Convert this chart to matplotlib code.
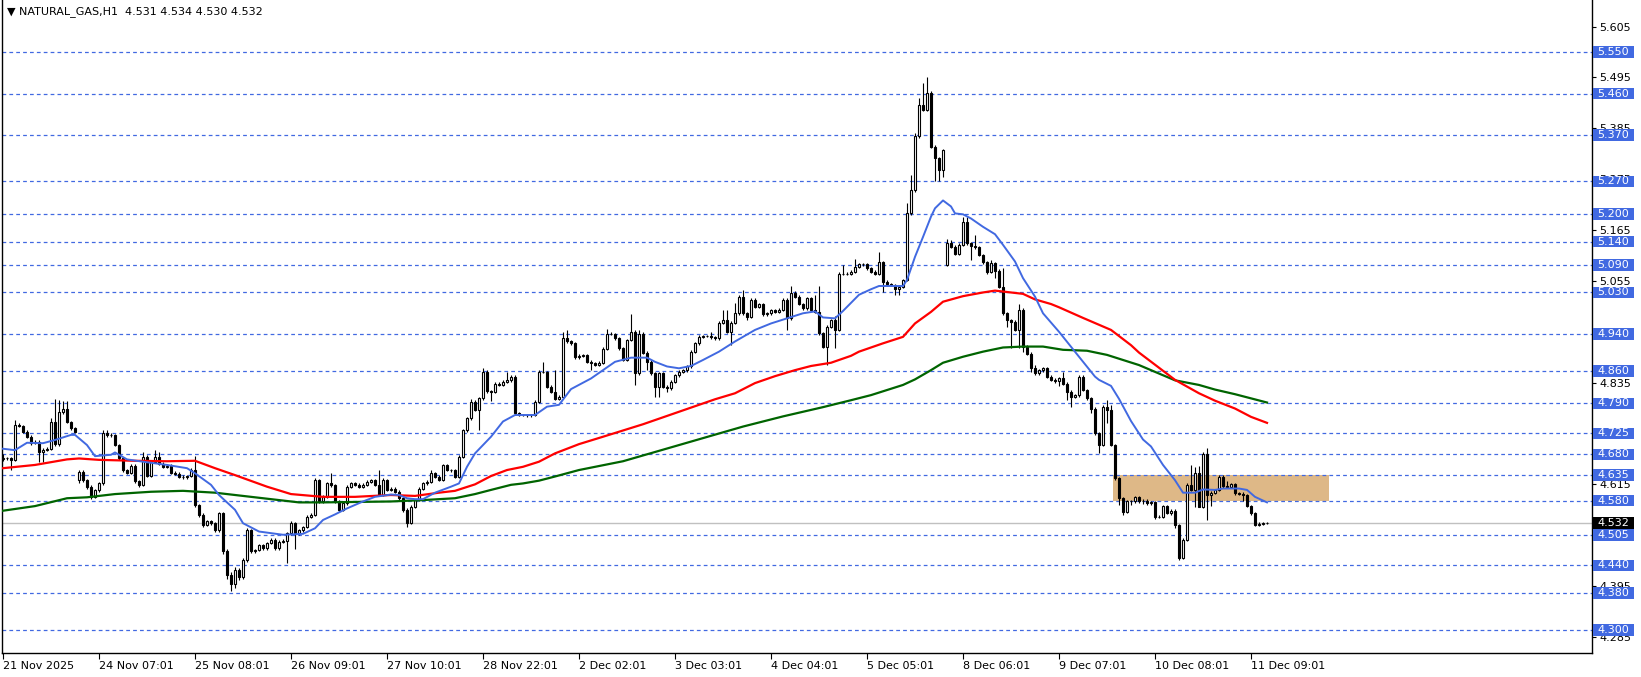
import matplotlib
matplotlib.use("Agg")
import matplotlib.pyplot as plt
import matplotlib.transforms as mtransforms
from matplotlib.patches import Rectangle

W, H = 1641, 677

TITLE = "\u25bc NATURAL_GAS,H1  4.531 4.534 4.530 4.532"

# hourly closes in thousandths, 10 bars per row
first_open = 4670
gap_opens = {19: 4624, 236: 5090}
closes = [
    4672, 4671, 4668, 4743, 4741, 4729, 4718, 4705, 4707, 4684,
    4690, 4692, 4750, 4702, 4772, 4777, 4750, 4736, 4729, 4642,
    4624, 4610, 4588, 4603, 4617, 4725, 4722, 4721, 4700, 4671,
    4646, 4640, 4655, 4622, 4614, 4675, 4633, 4664, 4675, 4660,
    4653, 4655, 4640, 4638, 4632, 4630, 4633, 4646, 4570, 4549,
    4527, 4535, 4531, 4516, 4552, 4470, 4420, 4400, 4430, 4415,
    4451, 4516, 4470, 4473, 4484, 4477, 4488, 4495, 4477, 4491,
    4493, 4509, 4531, 4509, 4516, 4523, 4545, 4549, 4624, 4578,
    4588, 4617, 4613, 4578, 4560, 4574, 4610, 4617, 4614, 4610,
    4614, 4621, 4624, 4614, 4592, 4624, 4603, 4606, 4599, 4585,
    4560, 4532, 4567, 4581, 4606, 4617, 4621, 4639, 4632, 4625,
    4657, 4646, 4645, 4631, 4675, 4732, 4758, 4794, 4776, 4801,
    4859, 4816, 4815, 4833, 4830, 4837, 4840, 4848, 4769, 4765,
    4765, 4764, 4765, 4794, 4859, 4858, 4826, 4815, 4800, 4805,
    4931, 4924, 4920, 4890, 4893, 4895, 4880, 4877, 4874, 4878,
    4908, 4941, 4940, 4931, 4909, 4884, 4927, 4945, 4855, 4941,
    4900, 4880, 4855, 4826, 4855, 4826, 4823, 4837, 4851, 4859,
    4862, 4870, 4902, 4920, 4934, 4936, 4936, 4933, 4931, 4965,
    4970, 4945, 4965, 4985, 5021, 4985, 4978, 5014, 4999, 5005,
    4983, 4985, 4992, 4988, 4993, 5014, 4974, 5028, 5021, 5005,
    4996, 5017, 4992, 4988, 4942, 4913, 4956, 4970, 4949, 5071,
    5071, 5070, 5075, 5086, 5091, 5091, 5082, 5075, 5070, 5096,
    5053, 5048, 5046, 5037, 5042, 5057, 5201, 5251, 5368, 5435,
    5425, 5462, 5345, 5320, 5295, 5338, 5136, 5129, 5113, 5133,
    5183, 5136, 5130, 5128, 5111, 5095, 5075, 5093, 5077, 5042,
    4985, 4970, 4967, 4949, 4993, 4913, 4898, 4866, 4855, 4862,
    4866, 4848, 4841, 4838, 4844, 4833, 4815, 4805, 4808, 4848,
    4819, 4801, 4779, 4725, 4700, 4783, 4776, 4700, 4628, 4585,
    4556, 4578, 4578, 4587, 4578, 4580, 4574, 4576, 4545, 4545,
    4568, 4554, 4558, 4527, 4455, 4495, 4613, 4603, 4640, 4567,
    4681, 4592, 4597, 4603, 4632, 4611, 4610, 4615, 4596, 4595,
    4592, 4568, 4552, 4527, 4530, 4531, 4532,
]
# wick lengths above / below the body, in thousandths
up_wick = [
    8, 3, 3, 12, 4, 3, 3, 3, 4, 3,
    4, 4, 8, 49, 25, 19, 19, 3, 3, 4,
    4, 3, 3, 3, 3, 8, 8, 5, 3, 3,
    3, 3, 4, 3, 3, 11, 3, 4, 14, 10,
    3, 3, 3, 3, 3, 3, 3, 4, 30, 3,
    3, 4, 3, 3, 4, 4, 5, 5, 6, 5,
    4, 4, 3, 3, 3, 3, 3, 3, 3, 3,
    3, 3, 4, 3, 3, 3, 3, 3, 4, 3,
    3, 3, 22, 3, 3, 3, 3, 4, 3, 3,
    3, 3, 3, 3, 32, 4, 3, 3, 3, 3,
    3, 3, 3, 3, 3, 3, 3, 6, 3, 3,
    3, 3, 3, 3, 3, 3, 3, 6, 3, 3,
    7, 3, 3, 3, 3, 3, 17, 4, 3, 3,
    3, 3, 3, 3, 3, 21, 3, 3, 47, 3,
    14, 18, 3, 3, 3, 3, 3, 3, 3, 3,
    3, 9, 3, 3, 3, 3, 3, 38, 3, 8,
    3, 3, 3, 3, 3, 3, 3, 3, 3, 3,
    3, 3, 3, 3, 3, 3, 3, 9, 3, 3,
    23, 22, 3, 23, 4, 14, 3, 3, 3, 3,
    3, 3, 3, 3, 3, 3, 3, 15, 5, 3,
    3, 3, 3, 33, 56, 3, 3, 3, 9, 3,
    18, 3, 3, 16, 3, 3, 3, 3, 3, 22,
    3, 3, 3, 3, 3, 3, 22, 33, 6, 15,
    49, 35, 3, 3, 3, 3, 9, 7, 3, 3,
    11, 11, 3, 24, 3, 3, 3, 7, 3, 3,
    40, 3, 3, 3, 12, 3, 3, 3, 7, 3,
    3, 3, 3, 3, 3, 15, 3, 3, 3, 3,
    3, 3, 3, 3, 3, 3, 14, 11, 3, 3,
    3, 3, 3, 3, 3, 3, 3, 3, 3, 3,
    3, 3, 3, 3, 3, 3, 4, 44, 12, 15,
    5, 12, 3, 3, 3, 3, 12, 3, 3, 3,
    3, 3, 3, 3, 3, 3, 2,
]
dn_wick = [
    4, 3, 22, 2, 3, 3, 3, 4, 3, 20,
    20, 3, 3, 3, 3, 4, 3, 4, 4, 7,
    4, 5, 5, 3, 4, 3, 4, 4, 3, 4,
    4, 3, 3, 5, 4, 3, 3, 3, 3, 3,
    3, 3, 3, 3, 4, 3, 3, 3, 3, 4,
    4, 3, 3, 4, 3, 5, 10, 15, 10, 6,
    4, 3, 3, 3, 3, 3, 3, 3, 3, 3,
    3, 49, 3, 33, 3, 3, 3, 3, 3, 4,
    3, 3, 3, 3, 5, 3, 3, 3, 3, 3,
    3, 3, 3, 3, 3, 3, 3, 3, 3, 3,
    4, 9, 3, 3, 3, 3, 3, 3, 3, 3,
    3, 3, 3, 3, 3, 3, 3, 3, 3, 43,
    3, 3, 20, 3, 3, 3, 3, 3, 3, 3,
    3, 3, 3, 3, 3, 3, 3, 3, 3, 3,
    3, 3, 3, 3, 3, 3, 3, 15, 3, 3,
    3, 3, 3, 3, 3, 3, 3, 3, 25, 3,
    3, 18, 3, 21, 21, 3, 8, 3, 3, 3,
    3, 3, 3, 3, 3, 3, 3, 3, 3, 3,
    3, 3, 29, 3, 3, 3, 8, 3, 3, 3,
    3, 3, 3, 3, 3, 3, 25, 3, 3, 3,
    3, 3, 3, 3, 3, 3, 40, 3, 40, 3,
    3, 3, 3, 3, 3, 3, 3, 3, 3, 3,
    21, 3, 3, 12, 13, 3, 3, 3, 3, 3,
    3, 3, 3, 50, 25, 15, 3, 3, 2, 3,
    3, 3, 30, 3, 3, 3, 4, 3, 16, 3,
    3, 14, 58, 3, 40, 11, 3, 7, 3, 3,
    3, 3, 3, 3, 10, 3, 17, 22, 3, 3,
    3, 3, 10, 3, 18, 2, 29, 3, 3, 15,
    7, 3, 8, 3, 3, 5, 3, 3, 5, 3,
    3, 3, 6, 7, 4, 2, 3, 3, 36, 2,
    3, 54, 24, 3, 3, 3, 3, 3, 3, 3,
    12, 3, 3, 3, 3, 3, 1,
]

# moving averages (bar index, price)
blue_idx = [0, 3, 6, 10, 13, 17, 18, 21, 23, 27, 28, 31, 35, 41, 46, 48, 52, 54, 58, 60,
            64, 70, 75, 78, 80, 83, 86, 90, 93, 97, 99, 101, 103, 105, 108, 112, 114, 116,
            118, 122, 125, 128, 133, 136, 139, 142, 147, 150, 153, 157, 161, 163, 166, 169,
            172, 175, 179, 183, 188, 192, 196, 200, 203, 205, 208, 210, 214, 217, 219, 225,
            226, 228, 230, 232, 233, 235, 237, 238, 240, 242, 245, 248, 250, 253, 255, 258,
            260, 263, 264, 269, 273, 274, 277, 279, 282, 285, 287, 290, 293, 295, 298, 300,
            303, 305, 309, 311, 313, 316]
blue_val = [4.692, 4.689, 4.705, 4.704, 4.711, 4.722, 4.722, 4.700, 4.676, 4.679, 4.684,
            4.669, 4.664, 4.657, 4.650, 4.639, 4.614, 4.592, 4.560, 4.531, 4.513, 4.506,
            4.508, 4.520, 4.538, 4.550, 4.563, 4.578, 4.588, 4.593, 4.592, 4.585, 4.583,
            4.583, 4.597, 4.610, 4.617, 4.653, 4.682, 4.718, 4.751, 4.765, 4.765, 4.783,
            4.787, 4.821, 4.844, 4.862, 4.880, 4.889, 4.889, 4.880, 4.870, 4.866, 4.871,
            4.884, 4.902, 4.924, 4.949, 4.963, 4.974, 4.985, 4.989, 4.976, 4.974, 4.990,
            5.025, 5.037, 5.044, 5.044, 5.057, 5.107, 5.150, 5.194, 5.212, 5.229, 5.216,
            5.201, 5.199, 5.190, 5.172, 5.156, 5.133, 5.097, 5.061, 5.021, 4.985, 4.955,
            4.945, 4.891, 4.848, 4.841, 4.828, 4.800, 4.752, 4.712, 4.697, 4.657, 4.624,
            4.597, 4.597, 4.604, 4.603, 4.606, 4.606, 4.603, 4.588, 4.576]
red_idx = [0, 8, 16, 19, 24, 33, 41, 48, 53, 58, 66, 72, 80, 88, 97, 103, 109, 113, 118,
           122, 126, 130, 134, 138, 144, 150, 160, 170, 178, 183, 188, 193, 198, 202, 207,
           212, 214, 220, 225, 228, 232, 235, 240, 245, 248, 252, 255, 258, 262, 264, 270,
           277, 282, 284, 293, 299, 303, 308, 312, 316]
red_val = [4.650, 4.657, 4.669, 4.671, 4.668, 4.666, 4.665, 4.666, 4.650, 4.635, 4.610,
           4.594, 4.588, 4.588, 4.592, 4.590, 4.597, 4.601, 4.615, 4.633, 4.646, 4.653,
           4.664, 4.682, 4.702, 4.718, 4.745, 4.775, 4.799, 4.812, 4.834, 4.849, 4.862,
           4.871, 4.878, 4.893, 4.902, 4.920, 4.934, 4.963, 4.988, 5.010, 5.022, 5.030,
           5.034, 5.030, 5.027, 5.015, 5.005, 4.998, 4.975, 4.949, 4.916, 4.900, 4.841,
           4.812, 4.796, 4.779, 4.761, 4.748]
green_idx = [0, 8, 16, 21, 28, 37, 45, 53, 62, 70, 74, 80, 97, 105, 113, 118, 122, 127,
             130, 134, 138, 144, 155, 165, 175, 185, 195, 205, 212, 217, 225, 228, 232,
             235, 240, 245, 250, 255, 260, 265, 271, 276, 280, 284, 293, 299, 303, 308,
             312, 316]
green_val = [4.558, 4.568, 4.585, 4.587, 4.594, 4.599, 4.601, 4.597, 4.588, 4.580, 4.576,
             4.576, 4.578, 4.581, 4.585, 4.594, 4.603, 4.614, 4.617, 4.623, 4.632, 4.646,
             4.665, 4.690, 4.715, 4.740, 4.762, 4.782, 4.797, 4.808, 4.830, 4.842, 4.862,
             4.878, 4.891, 4.902, 4.911, 4.913, 4.913, 4.906, 4.904, 4.895, 4.884, 4.873,
             4.840, 4.830, 4.820, 4.810, 4.801, 4.792]

date_ticks = [0, 24, 48, 72, 96, 120, 144, 168, 192, 216, 240, 264, 288, 312]
date_labels = ["21 Nov 2025", "24 Nov 07:01", "25 Nov 08:01", "26 Nov 09:01",
               "27 Nov 10:01", "28 Nov 22:01", "2 Dec 02:01", "3 Dec 03:01",
               "4 Dec 04:01", "5 Dec 05:01", "8 Dec 06:01", "9 Dec 07:01",
               "10 Dec 08:01", "11 Dec 09:01"]
price_ticks = [5.605, 5.495, 5.385, 5.275, 5.165, 5.055, 4.945, 4.835, 4.725,
               4.615, 4.505, 4.395, 4.285]
levels = [5.550, 5.460, 5.370, 5.270, 5.200, 5.140, 5.090, 5.030, 4.940, 4.860,
          4.790, 4.725, 4.680, 4.635, 4.580, 4.505, 4.440, 4.380, 4.300]
last_price = 4.532
zone_low, zone_high = 4.580, 4.635
zone_start, zone_end = 277.5, 331.5

LEVEL_BLUE = "#4169E1"


def ohlc():
    rows = []
    prev = first_open
    for i, c in enumerate(closes):
        o = gap_opens.get(i, prev)
        h = max(o, c) + up_wick[i]
        l = min(o, c) - dn_wick[i]
        rows.append((o / 1000, h / 1000, l / 1000, c / 1000))
        prev = c
    return rows


def draw_candles(ax):
    for i, (o, h, l, c) in enumerate(ohlc()):
        ax.vlines(i, l, h, color="black", lw=0.8, zorder=3)
        fill = "white" if c >= o else "black"
        ax.bar(i, abs(c - o), bottom=min(o, c), width=0.55, color=fill,
               edgecolor="black", linewidth=0.8, zorder=4)


def right_labels(fig, ax):
    trans = mtransforms.blended_transform_factory(fig.transFigure, ax.transData)
    box_h = 0.025
    for lv in levels:
        ax.add_patch(Rectangle((1593 / W, lv - box_h / 2), 41 / W, box_h, transform=trans,
                               fc=LEVEL_BLUE, ec="none", clip_on=False, zorder=10))
        ax.text(1597 / W, lv, "%.3f" % lv, transform=trans, color="white", fontsize=8,
                va="center", ha="left", clip_on=False, zorder=11)
    ax.add_patch(Rectangle((1593 / W, last_price - box_h / 2), 41 / W, box_h, transform=trans,
                           fc="black", ec="none", clip_on=False, zorder=10))
    ax.text(1597 / W, last_price, "%.3f" % last_price, transform=trans, color="white",
            fontsize=8, va="center", ha="left", clip_on=False, zorder=11)


def main():
    fig = plt.figure(figsize=(W / 100, H / 100), dpi=100)
    ax = fig.add_axes([2 / W, 24 / H, 1590 / W, 653 / H])

    for lv in levels:
        ax.axhline(lv, color=LEVEL_BLUE, lw=0.9, ls=(0, (3, 2.5)), zorder=1)
    ax.axhline(last_price, color="#C0C0C0", lw=1.0, zorder=1)
    ax.add_patch(Rectangle((zone_start, zone_low), zone_end - zone_start, zone_high - zone_low,
                           fc="#DEB887", ec="none", zorder=0.5))

    draw_candles(ax)
    ax.plot(green_idx, green_val, color="#006400", lw=1.6, zorder=6)
    ax.plot(red_idx, red_val, color="#FF0000", lw=1.6, zorder=6)
    ax.plot(blue_idx, blue_val, color=LEVEL_BLUE, lw=1.4, zorder=6)

    ax.spines["top"].set_visible(False)
    for s in ("left", "right", "bottom"):
        ax.spines[s].set_linewidth(1.0)
        ax.spines[s].set_color("black")

    ax.yaxis.tick_right()
    ax.set_yticks(price_ticks)
    ax.set_yticklabels(["%.3f" % v for v in price_ticks])
    ax.tick_params(axis="y", length=3, pad=2, labelsize=8, colors="black")
    ax.set_xticks(date_ticks)
    ax.set_xticklabels(date_labels)
    ax.tick_params(axis="x", length=4, pad=2, labelsize=8)
    for lbl in ax.get_xticklabels():
        lbl.set_horizontalalignment("left")

    right_labels(fig, ax)
    fig.text(7 / W, 1 - 12 / H, TITLE, fontsize=8, va="center", ha="left")

    ax.set_xlim(-0.25, 397.25)
    ax.set_ylim(4.2503, 5.6625)
    fig.savefig("out.png", dpi=100)


if __name__ == "__main__":
    main()
